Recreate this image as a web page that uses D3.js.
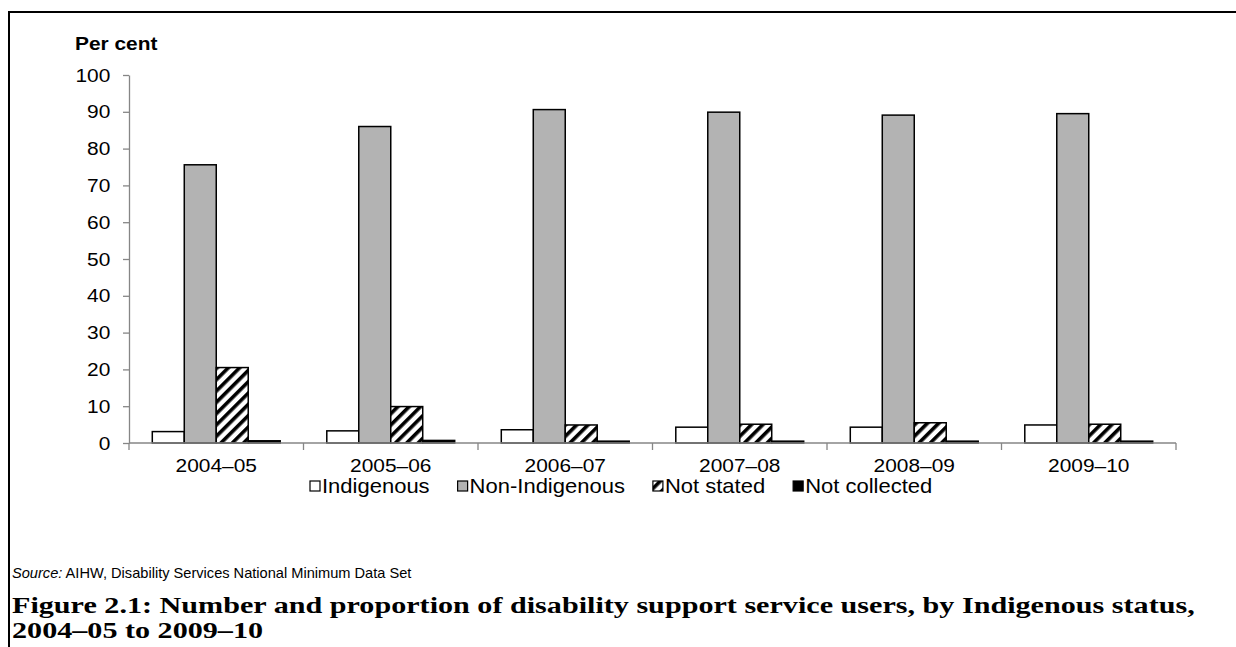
<!DOCTYPE html>
<html>
<head>
<meta charset="utf-8">
<script src="https://cdn.jsdelivr.net/npm/d3@7"></script>
<style>
  html, body { margin: 0; padding: 0; background: #fff; }
  svg { display: block; }
</style>
</head>
<body>
<svg id="chart" width="1236" height="647"></svg>
<script>
const categories = ["2004–05", "2005–06", "2006–07", "2007–08", "2008–09", "2009–10"];
const seriesNames = ["Indigenous", "Non-Indigenous", "Not stated", "Not collected"];
const indigenous = [3.1, 3.3, 3.6, 4.3, 4.3, 4.9];
const nonIndigenous = [75.6, 86.0, 90.6, 89.9, 89.1, 89.5];
const notStated = [20.5, 9.9, 4.9, 5.1, 5.5, 5.1];
const notCollected = [0.6, 0.7, 0.5, 0.5, 0.5, 0.5];
const yTicks = [0, 10, 20, 30, 40, 50, 60, 70, 80, 90, 100];
const yLabel = "Per cent";
const sourceLabel = "Source:";
const sourceText = " AIHW, Disability Services National Minimum Data Set";
const titleLines = ["Figure 2.1: Number and proportion of disability support service users, by Indigenous status,",
                    "2004–05 to 2009–10"];

const seriesValues = [indigenous, nonIndigenous, notStated, notCollected];
const svg = d3.select("#chart");
const SX = 1.1;
const sansFont = "'Liberation Sans', Arial, sans-serif";

// patterns
const defs = svg.append("defs");
const pat = defs.append("pattern")
  .attr("id", "hatch")
  .attr("patternUnits", "userSpaceOnUse")
  .attr("width", 8).attr("height", 8)
  .attr("patternTransform", "rotate(45)");
pat.append("rect").attr("width", 8).attr("height", 8).attr("fill", "#fff");
pat.append("rect").attr("width", 3.6).attr("height", 8).attr("fill", "#000");

const fills = ["#ffffff", "#b3b3b3", "url(#hatch)", "#000000"];

// frame
svg.append("line").attr("x1", 9).attr("x2", 1236).attr("y1", 12).attr("y2", 12)
  .attr("stroke", "#000").attr("stroke-width", 2);
svg.append("line").attr("x1", 9).attr("x2", 9).attr("y1", 11).attr("y2", 647)
  .attr("stroke", "#000").attr("stroke-width", 2);

// scales
const x0 = 129, x1 = 1176;
const x = d3.scaleBand().domain(categories).range([x0, x1]).paddingInner(0.267).paddingOuter(0.1335);
const xs = d3.scaleBand().domain(seriesNames).range([0, x.bandwidth()]);
const y = d3.scaleLinear().domain([0, 100]).range([443, 75]);

// y axis
const yAxis = svg.append("g").attr("transform", `translate(${x0},0)`)
  .call(d3.axisLeft(y).tickValues(yTicks).tickSize(6).tickSizeOuter(0).tickPadding(11));
yAxis.selectAll("path, line").attr("stroke", "#868686").attr("stroke-width", 1.3);
yAxis.selectAll("text")
  .attr("font-family", sansFont).attr("font-size", 19).attr("fill", "#000")
  .attr("transform", `scale(${SX},1)`);

// y label
svg.append("text").attr("x", 75).attr("y", 50)
  .attr("font-family", sansFont).attr("font-size", 19).attr("font-weight", "bold")
  .attr("transform-origin", "75 50").attr("transform", `scale(${SX},1)`)
  .text(yLabel);

// bars
const groups = svg.append("g").selectAll("g").data(categories).join("g")
  .attr("transform", d => `translate(${x(d)},0)`);
groups.selectAll("rect")
  .data((d, i) => seriesNames.map((s, k) => ({ s, k, v: seriesValues[k][i] })))
  .join("rect")
  .attr("x", d => xs(d.s))
  .attr("width", xs.bandwidth())
  .attr("y", d => y(d.v))
  .attr("height", d => y(0) - y(d.v))
  .attr("fill", d => fills[d.k])
  .attr("stroke", "#000")
  .attr("stroke-width", 1.5);

// x axis
const step = x.step();
const xAxisG = svg.append("g");
xAxisG.append("line").attr("x1", x0).attr("x2", x1).attr("y1", y(0)).attr("y2", y(0))
  .attr("stroke", "#868686").attr("stroke-width", 1.3);
const boundaries = categories.map(c => x(c) - (step - x.bandwidth()) / 2).concat([x1]);
xAxisG.selectAll("line.tick").data(boundaries).join("line").attr("class", "tick")
  .attr("x1", d => d).attr("x2", d => d).attr("y1", y(0)).attr("y2", y(0) + 7)
  .attr("stroke", "#868686").attr("stroke-width", 1.3);
xAxisG.selectAll("g.lab").data(categories).join("g").attr("class", "lab")
  .attr("transform", d => `translate(${x(d) + x.bandwidth() / 2},472)`)
  .append("text")
  .attr("text-anchor", "middle")
  .attr("font-family", sansFont).attr("font-size", 19)
  .attr("transform", `scale(${SX},1)`)
  .text(d => d);

// legend
const legend = svg.append("g").attr("transform", "translate(310,486)");
let lx = 0;
seriesNames.forEach((s, k) => {
  const g = legend.append("g").attr("transform", `translate(${lx},0)`);
  g.append("rect").attr("x", 0).attr("y", -5).attr("width", 10).attr("height", 10)
    .attr("fill", fills[k]).attr("stroke", "#000").attr("stroke-width", 1.2);
  const t = g.append("g").attr("transform", "translate(12,7)").append("text")
    .attr("font-family", sansFont).attr("font-size", 20)
    .attr("transform", `scale(${SX},1)`)
    .text(s);
  const w = t.node().getComputedTextLength() * SX;
  lx += 12 + w + 28;
});

// source
const src = svg.append("text").attr("x", 0).attr("y", 0)
  .attr("font-family", sansFont).attr("font-size", 14);
src.append("tspan").attr("font-style", "italic").text(sourceLabel);
src.append("tspan").text(sourceText);
const srcW = src.node().getComputedTextLength();
src.attr("transform", `translate(12,578) scale(${400 / srcW},1)`);

// title
const serifFont = "'Liberation Serif', 'Times New Roman', serif";
const t1 = svg.append("text").attr("font-family", serifFont).attr("font-size", 24)
  .attr("font-weight", "bold").text(titleLines[0]);
const t1w = t1.node().getComputedTextLength();
const tsx = (1195 - 12) / t1w;
t1.attr("transform", `translate(12,613) scale(${tsx},1)`);
svg.append("text").attr("font-family", serifFont).attr("font-size", 24)
  .attr("font-weight", "bold").text(titleLines[1])
  .attr("transform", `translate(12,638) scale(${tsx},1)`);
</script>
</body>
</html>
